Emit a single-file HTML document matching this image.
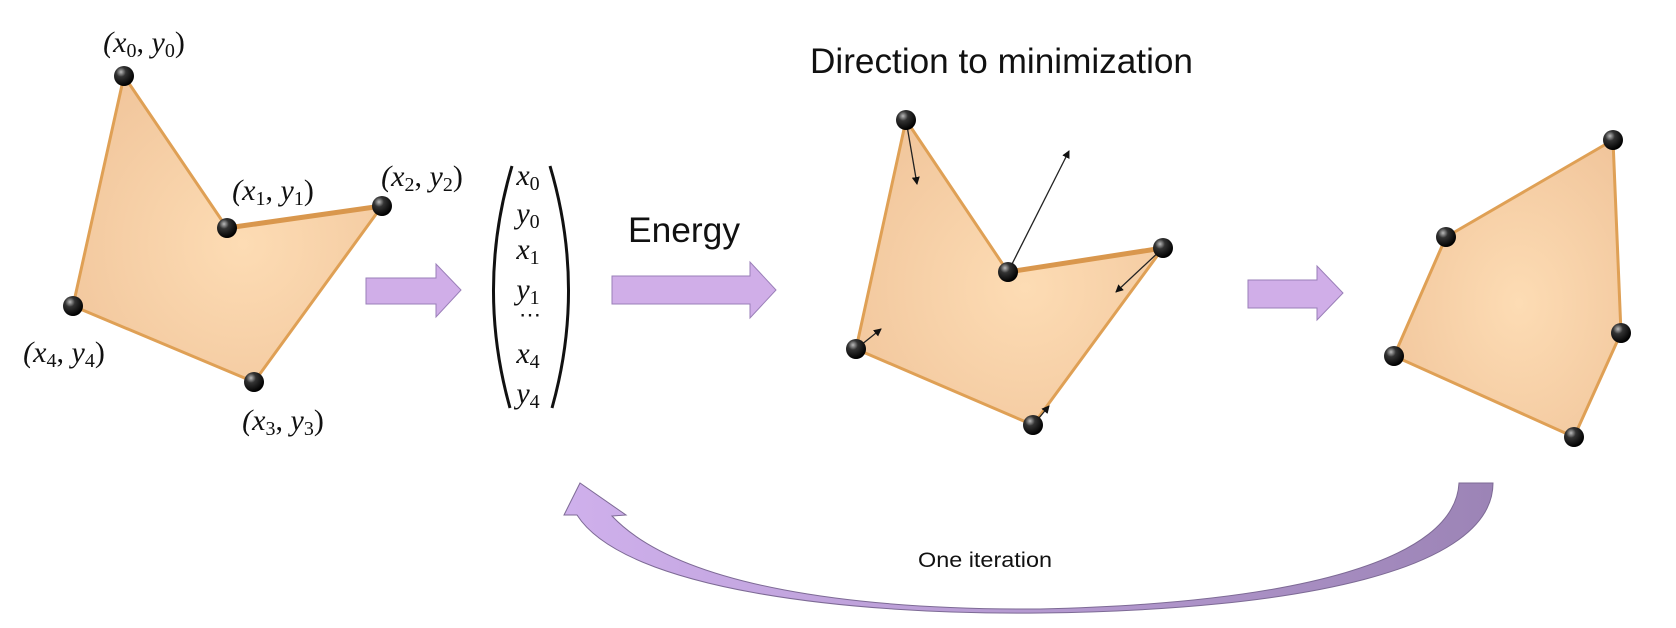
<!DOCTYPE html>
<html><head><meta charset="utf-8"><style>
html,body{margin:0;padding:0;background:#fff;}
svg{display:block;}
.m{font-family:"Liberation Serif","DejaVu Serif",serif;font-style:italic;font-size:30px;fill:#111;}
.s{font-family:"Liberation Sans",sans-serif;fill:#111;}
</style></head><body>
<svg width="1676" height="628" viewBox="0 0 1676 628" xmlns="http://www.w3.org/2000/svg">
<defs>
<radialGradient id="poly" cx="0.55" cy="0.55" r="0.7">
<stop offset="0" stop-color="#fddcb4"/><stop offset="1" stop-color="#f0c49a"/></radialGradient>
<radialGradient id="ball" cx="0.35" cy="0.3" r="0.7">
<stop offset="0" stop-color="#bbb"/><stop offset="0.35" stop-color="#333"/><stop offset="1" stop-color="#000"/></radialGradient>
<linearGradient id="curve" x1="0" x2="1" y1="0" y2="0">
<stop offset="0" stop-color="#cfb0ec"/><stop offset="1" stop-color="#9c84b6"/></linearGradient>
<marker id="ah" markerWidth="8" markerHeight="8" refX="7" refY="4" orient="auto" markerUnits="userSpaceOnUse">
<path d="M0,0 L8,4 L0,8 Z" fill="#111"/></marker>
</defs>

<polygon points="124,76 227,228 382,206 254,382 73,306" fill="url(#poly)" stroke="#dfa055" stroke-width="3" stroke-linejoin="round"/>
<line x1="227" y1="228" x2="382" y2="206" stroke="#d9974d" stroke-width="5"/>
<g fill="url(#ball)">
<circle cx="124" cy="76" r="10"/><circle cx="227" cy="228" r="10"/><circle cx="382" cy="206" r="10"/><circle cx="254" cy="382" r="10"/><circle cx="73" cy="306" r="10"/>
</g>
<text class="m" x="144" y="52" text-anchor="middle">(x<tspan font-size="20" font-style="normal" dy="5">0</tspan><tspan dy="-5" font-style="normal">, </tspan>y<tspan font-size="20" font-style="normal" dy="5">0</tspan><tspan dy="-5" font-style="normal">)</tspan></text>
<text class="m" x="273" y="200" text-anchor="middle">(x<tspan font-size="20" font-style="normal" dy="5">1</tspan><tspan dy="-5" font-style="normal">, </tspan>y<tspan font-size="20" font-style="normal" dy="5">1</tspan><tspan dy="-5" font-style="normal">)</tspan></text>
<text class="m" x="422" y="186" text-anchor="middle">(x<tspan font-size="20" font-style="normal" dy="5">2</tspan><tspan dy="-5" font-style="normal">, </tspan>y<tspan font-size="20" font-style="normal" dy="5">2</tspan><tspan dy="-5" font-style="normal">)</tspan></text>
<text class="m" x="64" y="362" text-anchor="middle">(x<tspan font-size="20" font-style="normal" dy="5">4</tspan><tspan dy="-5" font-style="normal">, </tspan>y<tspan font-size="20" font-style="normal" dy="5">4</tspan><tspan dy="-5" font-style="normal">)</tspan></text>
<text class="m" x="283" y="430" text-anchor="middle">(x<tspan font-size="20" font-style="normal" dy="5">3</tspan><tspan dy="-5" font-style="normal">, </tspan>y<tspan font-size="20" font-style="normal" dy="5">3</tspan><tspan dy="-5" font-style="normal">)</tspan></text>

<polygon points="366,278 436,278 436,264 461,290 436,317 436,304 366,304" fill="#d0aee8" stroke="#9a7fb8" stroke-width="1"/>

<path d="M512,166 Q476,287 510,408" fill="none" stroke="#111" stroke-width="3"/>
<path d="M550,166 Q586,287 552,408" fill="none" stroke="#111" stroke-width="3"/>
<g class="m" text-anchor="middle">
<text x="528" y="185">x<tspan font-size="20" font-style="normal" dy="5">0</tspan></text>
<text x="528" y="223">y<tspan font-size="20" font-style="normal" dy="5">0</tspan></text>
<text x="528" y="259">x<tspan font-size="20" font-style="normal" dy="5">1</tspan></text>
<text x="528" y="299">y<tspan font-size="20" font-style="normal" dy="5">1</tspan></text>
<text x="530" y="322" font-style="normal" font-size="22">⋯</text>
<text x="528" y="363">x<tspan font-size="20" font-style="normal" dy="5">4</tspan></text>
<text x="528" y="403">y<tspan font-size="20" font-style="normal" dy="5">4</tspan></text>
</g>

<text class="s" x="628" y="242" font-size="35" textLength="112" lengthAdjust="spacingAndGlyphs">Energy</text>
<polygon points="612,276 750,276 750,262 776,290 750,318 750,304 612,304" fill="#d0aee8" stroke="#9a7fb8" stroke-width="1"/>

<text class="s" x="810" y="73" font-size="35" textLength="383" lengthAdjust="spacingAndGlyphs">Direction to minimization</text>

<polygon points="906,120 1008,272 1163,248 1033,425 856,349" fill="url(#poly)" stroke="#dfa055" stroke-width="3" stroke-linejoin="round"/>
<line x1="1008" y1="272" x2="1163" y2="248" stroke="#d9974d" stroke-width="5"/>
<g stroke="#222" stroke-width="1.3" marker-end="url(#ah)">
<line x1="906" y1="120" x2="917" y2="184"/>
<line x1="1008" y1="272" x2="1069" y2="151"/>
<line x1="1163" y1="248" x2="1116" y2="292"/>
<line x1="856" y1="349" x2="881" y2="329"/>
<line x1="1033" y1="425" x2="1049" y2="406"/>
</g>
<g fill="url(#ball)">
<circle cx="906" cy="120" r="10"/><circle cx="1008" cy="272" r="10"/><circle cx="1163" cy="248" r="10"/><circle cx="1033" cy="425" r="10"/><circle cx="856" cy="349" r="10"/>
</g>

<polygon points="1248,280 1317,280 1317,266 1343,293 1317,320 1317,308 1248,308" fill="#d0aee8" stroke="#9a7fb8" stroke-width="1"/>

<polygon points="1446,237 1613,140 1621,333 1574,437 1394,356" fill="url(#poly)" stroke="#dfa055" stroke-width="3" stroke-linejoin="round"/>
<g fill="url(#ball)">
<circle cx="1446" cy="237" r="10"/><circle cx="1613" cy="140" r="10"/><circle cx="1621" cy="333" r="10"/><circle cx="1574" cy="437" r="10"/><circle cx="1394" cy="356" r="10"/>
</g>

<path d="M577,515 C625,590 850,615 1040,613 C1300,610 1493,570 1493,483 L1459,483 C1455,560 1300,603 1040,609 C860,610 680,588 612,516 L626,515 L580,483 L564,515 Z" fill="url(#curve)" stroke="#7d6a95" stroke-width="1"/>
<text class="s" x="918" y="567" font-size="21" textLength="134" lengthAdjust="spacingAndGlyphs">One iteration</text>
</svg>
</body></html>
